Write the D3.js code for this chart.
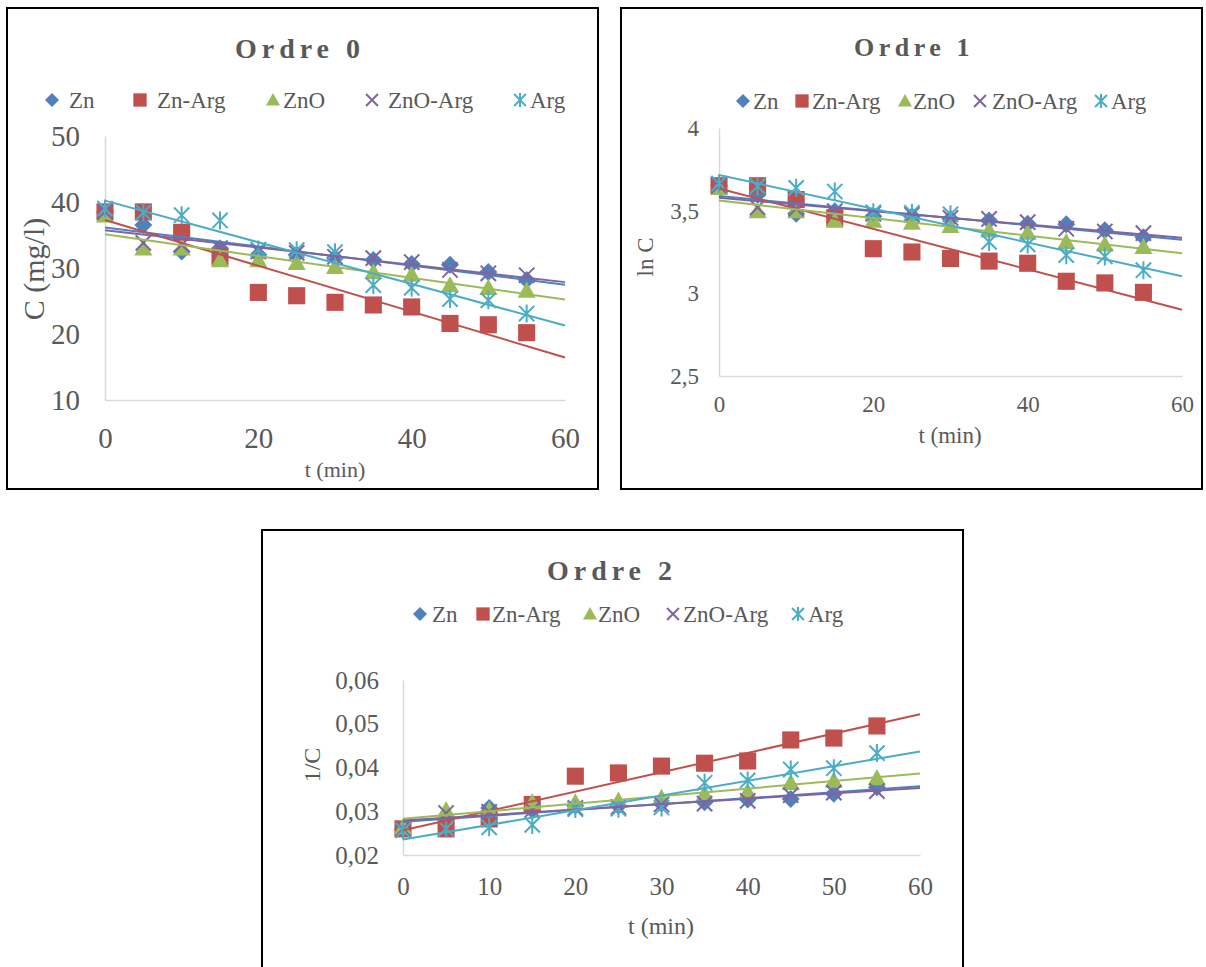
<!DOCTYPE html>
<html>
<head>
<meta charset="utf-8">
<script src="https://cdnjs.cloudflare.com/ajax/libs/d3/7.8.5/d3.min.js"></script>
<style>
  body { margin: 0; background: #fff; }
  svg { display: block; }
  text { font-family: "Liberation Serif", "Times New Roman", serif; fill: #595959; }
</style>
</head>
<body>
<svg id="chart" width="1206" height="967"></svg>
<script>
// Sampling times (min)
const times = [0, 5, 10, 15, 20, 25, 30, 35, 40, 45, 50, 55];
const seriesNames = ["Zn", "Zn-Arg", "ZnO", "ZnO-Arg", "Arg"];

// Ordre 0 : C (mg/l)
const c_Zn     = [38.5, 36.5, 32.5, 33.0, 32.0, 32.0, 31.5, 31.2, 30.6, 30.5, 29.4, 28.2];
const c_ZnArg  = [38.5, 38.5, 35.4, 31.7, 26.3, 25.8, 24.8, 24.4, 24.1, 21.6, 21.4, 20.2];
const c_ZnO    = [38.0, 33.0, 33.0, 31.2, 31.2, 30.8, 30.2, 29.4, 29.0, 27.4, 27.0, 26.6];
const c_ZnOArg = [38.5, 33.8, 33.5, 33.0, 32.5, 32.3, 31.7, 31.5, 30.9, 29.7, 29.2, 28.9];
const c_Arg    = [39.0, 38.4, 38.0, 37.2, 32.8, 32.7, 32.4, 27.4, 27.0, 25.3, 25.1, 23.1];

// Ordre 1 : ln C
const ln_Zn     = [3.651, 3.597, 3.481, 3.497, 3.466, 3.466, 3.450, 3.440, 3.421, 3.418, 3.381, 3.339];
const ln_ZnArg  = [3.651, 3.651, 3.567, 3.456, 3.270, 3.250, 3.211, 3.195, 3.182, 3.073, 3.063, 3.006];
const ln_ZnO    = [3.638, 3.497, 3.497, 3.440, 3.440, 3.428, 3.408, 3.381, 3.367, 3.311, 3.296, 3.281];
const ln_ZnOArg = [3.651, 3.520, 3.512, 3.497, 3.481, 3.475, 3.456, 3.450, 3.431, 3.391, 3.374, 3.364];
const ln_Arg    = [3.664, 3.648, 3.638, 3.616, 3.490, 3.487, 3.478, 3.311, 3.296, 3.231, 3.223, 3.140];

// Ordre 2 : 1/C
const inv_Zn     = [0.02597, 0.02740, 0.03077, 0.03030, 0.03125, 0.03125, 0.03175, 0.03205, 0.03268, 0.03279, 0.03401, 0.03546];
const inv_ZnArg  = [0.02597, 0.02597, 0.02825, 0.03155, 0.03802, 0.03876, 0.04032, 0.04098, 0.04149, 0.04630, 0.04673, 0.04950];
const inv_ZnO    = [0.02632, 0.03030, 0.03030, 0.03205, 0.03205, 0.03247, 0.03311, 0.03401, 0.03448, 0.03650, 0.03704, 0.03759];
const inv_ZnOArg = [0.02597, 0.02959, 0.02985, 0.03030, 0.03077, 0.03096, 0.03155, 0.03175, 0.03236, 0.03367, 0.03425, 0.03460];
const inv_Arg    = [0.02564, 0.02604, 0.02632, 0.02688, 0.03049, 0.03058, 0.03086, 0.03650, 0.03704, 0.03953, 0.03984, 0.04329];

// Axis ticks
const ticksX0 = [0, 20, 40, 60];
const ticksY0 = [10, 20, 30, 40, 50];
const ticksX1 = [0, 20, 40, 60];
const ticksY1 = [2.5, 3, 3.5, 4];
const ticksX2 = [0, 10, 20, 30, 40, 50, 60];
const ticksY2 = [0.02, 0.03, 0.04, 0.05, 0.06];

const colors  = ["#4F81BD", "#C0504D", "#9BBB59", "#8064A2", "#4BACC6"];
const markers = ["diamond", "square", "triangle", "cross", "star"];

const frLocale = d3.formatLocale({ decimal: ",", thousands: " ", grouping: [3], currency: ["", " €"] });

const svg = d3.select("#chart");

// Least-squares linear trend of a series
function linearFit(xs, ys) {
  const mx = d3.mean(xs), my = d3.mean(ys);
  let sxy = 0, sxx = 0;
  xs.forEach((x, i) => { sxy += (x - mx) * (ys[i] - my); sxx += (x - mx) * (x - mx); });
  const slope = sxy / sxx;
  return { slope, intercept: my - slope * mx };
}

// Draw one marker symbol centred at (0,0) inside g
function drawMarker(g, type, color, s) {
  const h = s / 2;
  if (type === "diamond") {
    g.append("path").attr("d", `M0,${-h}L${h},0L0,${h}L${-h},0Z`).attr("fill", color);
  } else if (type === "square") {
    const q = h * 0.95;
    g.append("rect").attr("x", -q).attr("y", -q).attr("width", 2 * q).attr("height", 2 * q).attr("fill", color);
  } else if (type === "triangle") {
    g.append("path").attr("d", `M0,${-h}L${h},${h * 0.8}L${-h},${h * 0.8}Z`).attr("fill", color);
  } else if (type === "cross") {
    const c = h * 0.85;
    g.append("path").attr("d", `M${-c},${-c}L${c},${c}M${-c},${c}L${c},${-c}`)
      .attr("stroke", color).attr("stroke-width", 2).attr("fill", "none");
  } else if (type === "star") {
    const c = h * 0.85;
    g.append("path").attr("d", `M${-c},${-c}L${c},${c}M${-c},${c}L${c},${-c}M0,${-h}L0,${h}`)
      .attr("stroke", color).attr("stroke-width", 2).attr("fill", "none");
  }
}

function drawPanel(p) {
  const g = svg.append("g");
  // frame
  g.append("rect")
    .attr("x", p.box[0]).attr("y", p.box[1])
    .attr("width", p.box[2] - p.box[0]).attr("height", p.box[3] - p.box[1])
    .attr("fill", "#fff").attr("stroke", "#000").attr("stroke-width", 2);

  const x = d3.scaleLinear().domain([0, 60]).range(p.xRange);
  const y = d3.scaleLinear().domain(p.yDomain).range(p.yRange);

  // axes
  const yAxis = d3.axisLeft(y).tickValues(p.yTicks).tickSize(0).tickSizeOuter(0)
    .tickPadding(p.yPad).tickFormat(p.yFormat);
  const xAxis = d3.axisBottom(x).tickValues(p.xTicks).tickSize(0).tickSizeOuter(0)
    .tickPadding(p.xPad).tickFormat(d3.format("d"));

  const ya = g.append("g").attr("transform", `translate(${p.xRange[0]},0)`).call(yAxis);
  const xa = g.append("g").attr("transform", `translate(0,${p.yRange[0]})`).call(xAxis);
  [ya, xa].forEach(a => {
    a.attr("font-family", null);
    a.select(".domain").attr("stroke", "#D9D9D9").attr("stroke-width", 1.5);
    a.selectAll("text").attr("fill", "#595959").style("font-size", p.tickFs + "px")
      .style("font-family", '"Liberation Serif", serif');
  });

  // markers, series in order
  p.series.forEach((vals, si) => {
    vals.forEach((v, i) => {
      const mg = g.append("g").attr("transform", `translate(${x(times[i])},${y(v)})`);
      drawMarker(mg, markers[si], colors[si], p.markerSize);
    });
  });

  // linear trend lines across the whole time axis
  p.series.forEach((vals, si) => {
    const fit = linearFit(times, vals);
    const pts = [0, 60].map(t => [x(t), y(fit.intercept + fit.slope * t)]);
    g.append("path").attr("d", d3.line()(pts))
      .attr("stroke", colors[si]).attr("stroke-width", 2).attr("fill", "none");
  });

  // title
  g.append("text").attr("x", p.title.x).attr("y", p.title.y)
    .attr("text-anchor", "middle").style("font-size", p.title.fs + "px")
    .style("font-weight", "bold").style("letter-spacing", p.title.ls + "px")
    .text(p.title.text);

  // legend
  seriesNames.forEach((name, si) => {
    const mg = g.append("g").attr("transform", `translate(${p.legend.mx[si]},${p.legend.y})`);
    drawMarker(mg, markers[si], colors[si], p.legend.ms);
    g.append("text").attr("x", p.legend.tx[si]).attr("y", p.legend.y)
      .attr("dy", "0.34em").style("font-size", p.legend.fs + "px").text(name);
  });

  // axis titles
  g.append("text").attr("text-anchor", "middle")
    .attr("transform", `translate(${p.yTitle.x},${p.yTitle.y}) rotate(-90)`)
    .attr("dy", "0.35em").style("font-size", p.yTitle.fs + "px").text(p.yTitle.text);
  g.append("text").attr("text-anchor", "middle")
    .attr("x", p.xTitle.x).attr("y", p.xTitle.y)
    .style("font-size", p.xTitle.fs + "px").text(p.xTitle.text);
}

drawPanel({
  box: [7, 8, 598, 489],
  xRange: [105, 565], yRange: [400, 136], yDomain: [10, 50],
  xTicks: ticksX0, yTicks: ticksY0, yFormat: d3.format("d"),
  tickFs: 29, yPad: 25, xPad: 27, markerSize: 18,
  series: [c_Zn, c_ZnArg, c_ZnO, c_ZnOArg, c_Arg],
  title: { text: "Ordre 0", x: 300, y: 58, fs: 28, ls: 5 },
  legend: { y: 100, fs: 23, ms: 14, mx: [52, 140, 273, 372, 520], tx: [69, 157, 283, 388, 530] },
  yTitle: { text: "C (mg/l)", x: 33, y: 269, fs: 30 },
  xTitle: { text: "t (min)", x: 335, y: 477, fs: 22 }
});

drawPanel({
  box: [621, 8, 1202, 489],
  xRange: [719, 1182], yRange: [376, 128], yDomain: [2.5, 4],
  xTicks: ticksX1, yTicks: ticksY1, yFormat: frLocale.format("~g"),
  tickFs: 23, yPad: 20, xPad: 20, markerSize: 18,
  series: [ln_Zn, ln_ZnArg, ln_ZnO, ln_ZnOArg, ln_Arg],
  title: { text: "Ordre 1", x: 914, y: 56, fs: 26, ls: 4.5 },
  legend: { y: 101, fs: 23, ms: 14, mx: [743, 802, 905, 980, 1101], tx: [753, 812, 913, 992, 1111] },
  yTitle: { text: "ln C", x: 645, y: 257, fs: 23 },
  xTitle: { text: "t (min)", x: 950, y: 443, fs: 23 }
});

drawPanel({
  box: [262, 530, 963, 995],
  xRange: [403, 920], yRange: [855, 680], yDomain: [0.02, 0.06],
  xTicks: ticksX2, yTicks: ticksY2, yFormat: frLocale.format(".2f"),
  tickFs: 25, yPad: 24, xPad: 22, markerSize: 18,
  series: [inv_Zn, inv_ZnArg, inv_ZnO, inv_ZnOArg, inv_Arg],
  title: { text: "Ordre 2", x: 612, y: 580, fs: 28, ls: 5 },
  legend: { y: 614, fs: 23, ms: 14, mx: [420, 483, 590, 673, 798], tx: [432, 492, 598, 683, 808] },
  yTitle: { text: "1/C", x: 312, y: 765, fs: 24 },
  xTitle: { text: "t (min)", x: 661, y: 934, fs: 24 }
});
</script>
</body>
</html>
